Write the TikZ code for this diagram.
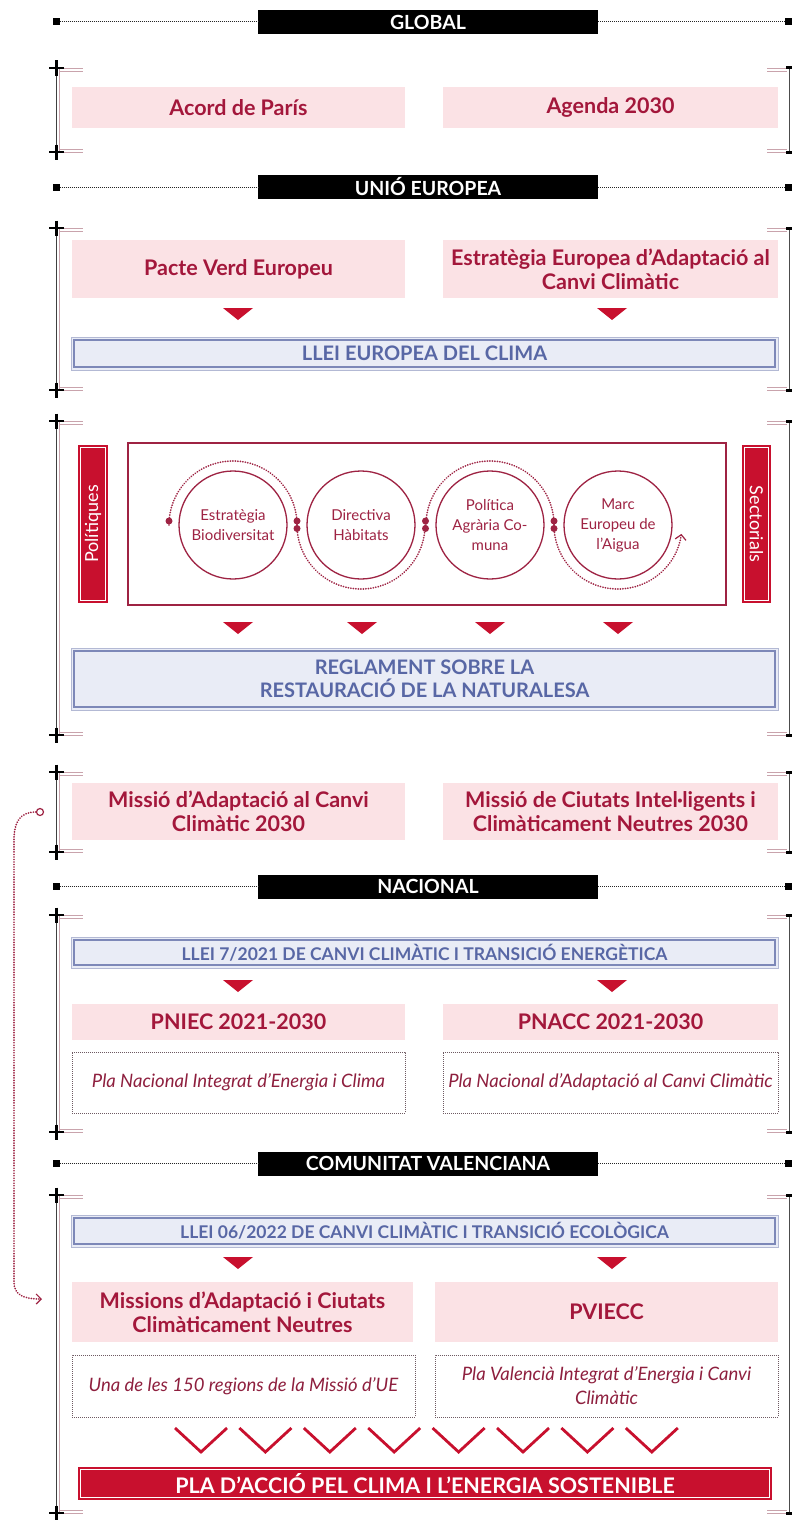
\documentclass[tikz,border=0pt]{standalone}
\usepackage{fontspec}
\setmainfont{Lato}
\usetikzlibrary{arrows.meta,calc}
\definecolor{crim}{HTML}{A3173B}
\definecolor{pinkf}{HTML}{FBE2E5}
\definecolor{redbar}{HTML}{C8102E}
\definecolor{bluet}{HTML}{5867A5}
\definecolor{bluef}{HTML}{E9ECF6}
\definecolor{blueo}{HTML}{B3B9D4}
\definecolor{bluei}{HTML}{7D88B8}
\definecolor{circ}{HTML}{9E2343}
\definecolor{brk}{HTML}{C9A3AC}
\definecolor{dotc}{HTML}{6E5A62}
\definecolor{itc}{HTML}{8E1F3E}
\tikzset{
  pinkbox/.style={fill=pinkf, text=crim, inner sep=0pt, align=center,
     font=\bfseries\fontsize{21.5}{24}\selectfont},
  bluebox/.style={fill=bluef, draw=blueo, line width=0.8pt, text=bluet, inner sep=0pt, align=center,
     font=\bfseries\fontsize{20}{22.5}\selectfont},
  dotbox/.style={draw=dotc, line width=0.8pt, dash pattern=on 0.8pt off 1.2pt, text=itc, inner sep=0pt,
     align=center, font=\itshape\fontsize{18.5}{24}\selectfont},
  hdr/.style={fill=black, text=white, inner sep=0pt, minimum width=340pt, minimum height=24pt,
     font=\bfseries\fontsize{19.5}{21}\selectfont},
  hsq/.style={fill=black, inner sep=0pt, minimum size=7pt},
  hdot/.style={black!85, line width=1pt, dash pattern=on 0.8pt off 1.2pt},
  redbarbox/.style={fill=redbar, draw=redbar, line width=2.4pt, double=white, double distance=0.7pt,
     text=white, inner sep=0pt},
  circnode/.style={circle, draw=circ, line width=1.3pt, minimum size=108pt, inner sep=0pt, text=circ,
     align=center, font=\fontsize{15}{20}\selectfont},
  arcdot/.style={circ, line width=1.9pt, dash pattern=on 0.01pt off 2.5pt, line cap=round},
  rdot/.style={circle, fill=circ, inner sep=0pt, minimum size=7pt},
  chev/.style={redbar, line width=2.8pt},
}
\newcommand\tridown[2]{\fill[redbar] (#1-15,#2) -- (#1+15,#2) -- (#1,#2+12) -- cycle;}
\newcommand\leftbrk[2]{%
 \draw[black!75, line width=0.8pt] (56.5,#1) -- (56.5,#2);
 \draw[brk, line width=0.9pt] (59.5,#1+1) -- (59.5,#2-1);
 \draw[brk, line width=0.6pt] (57,#1) -- (83,#1) (59.5,#1+3) -- (83,#1+3);
 \draw[brk, line width=0.6pt] (57,#2) -- (83,#2) (59.5,#2-3) -- (83,#2-3);
 \draw[black, line width=2.6pt] (49,#1) -- (64,#1) (56.5,#1-7.5) -- (56.5,#1+7.5);
 \draw[black, line width=2.6pt] (49,#2) -- (64,#2) (56.5,#2-7.5) -- (56.5,#2+7.5);
}
\newcommand\rightbrk[2]{%
 \draw[black!70, line width=1pt] (789.5,#1) -- (789.5,#2);
 \draw[brk, line width=0.6pt] (767,#1) -- (789,#1) (767,#1+3) -- (787,#1+3);
 \draw[brk, line width=0.6pt] (767,#2) -- (789,#2) (767,#2-3) -- (787,#2-3);
 \draw[black, line width=3pt] (786,#1) -- (792,#1) (786,#2) -- (792,#2);
}
\newcommand\header[3]{%
 \node[hdr] (#1) at (428,#2) {#3};
 \node[hsq] (#1L) at (56,#2) {};
 \node[hsq] (#1R) at (788.5,#2) {};
 \draw[hdot] (#1L) -- (#1);
 \draw[hdot] (#1) -- (#1R);
}
\newcommand\blueinner[1]{\draw[bluei, line width=1.3pt] ($(#1.south west)+(3.5pt,3.5pt)$) rectangle ($(#1.north east)+(-3.5pt,-3.5pt)$);}
\begin{document}
\begin{tikzpicture}[x=1pt,y=-1pt]
\useasboundingbox (0,0) rectangle (792,1520);
\fill[white] (0,0) rectangle (792,1520);

% ---------- headers
\header{hglob}{22}{GLOBAL}
\header{hue}{187}{UNIÓ EUROPEA}
\header{hnac}{886.5}{NACIONAL}
\header{hcv}{1163.5}{COMUNITAT VALENCIANA}

% ---------- brackets
\leftbrk{68}{152}\rightbrk{68}{152}
\leftbrk{228}{390}\rightbrk{228}{390}
\leftbrk{421}{735}\rightbrk{421}{735}
\leftbrk{772}{852}\rightbrk{772}{852}
\leftbrk{915}{1132}\rightbrk{915}{1132}
\leftbrk{1195}{1513}\rightbrk{1195}{1513}

% ---------- GLOBAL
\node[pinkbox, minimum width=333pt, minimum height=41pt] (acord) at (238.5,107.5) {Acord de París};
\node[pinkbox, minimum width=335pt, minimum height=41pt] (agenda) at (610.5,107.5) {Agenda 2030};

% ---------- UE 1
\node[pinkbox, minimum width=333pt, minimum height=58pt] (pacte) at (238.5,269) {Pacte Verd Europeu};
\node[pinkbox, minimum width=335pt, minimum height=58pt] (eeacc) at (610.5,269) {Estratègia Europea d’Adaptació al\\Canvi Climàtic};
\tridown{238}{308}\tridown{612}{308}
\node[bluebox, minimum width=707pt, minimum height=33pt] (lleiue) at (424.5,353.5) {LLEI EUROPEA DEL CLIMA};
\blueinner{lleiue}

% ---------- UE 2 (policies)
\node[redbarbox, minimum width=152.5pt, minimum height=24.5pt, rotate=90, font=\fontsize{18}{20}\selectfont] (polit) at (93,524) {Polítiques};
\node[redbarbox, minimum width=152.5pt, minimum height=23.5pt, rotate=-90, font=\fontsize{18}{20}\selectfont] (sect) at (756.5,524) {Sectorials};
\node[draw=circ, line width=1.6pt, minimum width=598pt, minimum height=162pt, inner sep=0pt] (polbox) at (427,524) {};
\node[circnode] (c1) at (233,525) {Estratègia\\Biodiversitat};
\node[circnode] (c2) at (361,525) {Directiva\\Hàbitats};
\node[circnode] (c3) at (490,525) {Política\\Agrària Co-\\muna};
\node[circnode] (c4) at (618,525) {Marc\\Europeu de\\l’Aigua};
\draw[arcdot] (169,525) arc[start angle=180, end angle=0, radius=64pt];
\draw[arcdot] (297,525) arc[start angle=180, end angle=360, radius=64pt];
\draw[arcdot] (426,525) arc[start angle=180, end angle=0, radius=64pt];
\draw[arcdot, -{Straight Barb[length=5pt,width=11pt,line width=1.2pt]}] (554,525) arc[start angle=180, end angle=352, radius=64pt];
\node[rdot] (d0) at (169,521) {};
\node[rdot] (d1a) at (297,521) {};
\node[rdot] (d1b) at (297,528.5) {};
\node[rdot] (d2a) at (425.5,521) {};
\node[rdot] (d2b) at (425.5,528.5) {};
\node[rdot] (d3a) at (554,521) {};
\node[rdot] (d3b) at (554,528.5) {};
\tridown{238}{622}\tridown{362}{622}\tridown{490}{622}\tridown{618}{622}
\node[bluebox, minimum width=707pt, minimum height=62pt] (regl) at (424.5,679) {REGLAMENT SOBRE LA\\RESTAURACIÓ DE LA NATURALESA};
\blueinner{regl}

% ---------- missions
\node[pinkbox, minimum width=333pt, minimum height=57pt] (madapt) at (238.5,811.5) {Missió d’Adaptació al Canvi\\Climàtic 2030};
\node[pinkbox, minimum width=335pt, minimum height=57pt] (mciut) at (610.5,811.5) {Missió de Ciutats Intel·ligents i\\Climàticament Neutres 2030};

% ---------- NACIONAL
\node[bluebox, minimum width=707pt, minimum height=31pt, font=\bfseries\fontsize{17.5}{19}\selectfont] (llei7) at (424.5,952.5) {LLEI 7/2021 DE CANVI CLIMÀTIC I TRANSICIÓ ENERGÈTICA};
\blueinner{llei7}
\tridown{238}{980}\tridown{612}{980}
\node[pinkbox, minimum width=333pt, minimum height=36pt] (pniec) at (238.5,1022) {PNIEC 2021-2030};
\node[pinkbox, minimum width=335pt, minimum height=36pt] (pnacc) at (610.5,1022) {PNACC 2021-2030};
\node[dotbox, minimum width=333pt, minimum height=61pt] (pniect) at (238.5,1082.5) {Pla Nacional Integrat d’Energia i Clima};
\node[dotbox, minimum width=335pt, minimum height=61pt] (pnacct) at (610.5,1082.5) {Pla Nacional d’Adaptació al Canvi Climàtic};

% ---------- COMUNITAT VALENCIANA
\node[bluebox, minimum width=707pt, minimum height=32pt, font=\bfseries\fontsize{17.5}{19}\selectfont] (llei6) at (424.5,1231) {LLEI 06/2022 DE CANVI CLIMÀTIC I TRANSICIÓ ECOLÒGICA};
\blueinner{llei6}
\tridown{238}{1257}\tridown{612}{1257}
\node[pinkbox, minimum width=341pt, minimum height=60pt] (mcv) at (242.5,1312) {Missions d’Adaptació i Ciutats\\Climàticament Neutres};
\node[pinkbox, minimum width=343pt, minimum height=60pt] (pviecc) at (606.5,1312) {PVIECC};
\node[dotbox, minimum width=343pt, minimum height=62pt] (mcvt) at (243.5,1386) {Una de les 150 regions de la Missió d’UE};
\node[dotbox, minimum width=343pt, minimum height=62pt] (pvieccT) at (606.5,1386) {Pla Valencià Integrat d’Energia i Canvi\\Climàtic};
\foreach \k in {0,...,7}{
  \draw[chev] ({201+64.4*\k-26},1428) -- ({201+64.4*\k},1452) -- ({201+64.4*\k+26},1428);
}
\node[redbarbox, minimum width=688.5pt, minimum height=27.5pt, font=\bfseries\fontsize{21.5}{23}\selectfont] (pla) at (425,1483.5) {PLA D’ACCIÓ PEL CLIMA I L’ENERGIA SOSTENIBLE};

% ---------- connector missions -> CV
\node[circle, draw=circ, line width=1.2pt, inner sep=0pt, minimum size=7pt] (mo) at (40,812) {};
\coordinate (me) at (42,1299);
\draw[arcdot, -{Straight Barb[length=5pt,width=10pt,line width=1.2pt]}] (mo.west) .. controls (20,812) and (14,822) .. (14,840) -- (14,1282) .. controls (14,1294) and (22,1299) .. (me);
\end{tikzpicture}
\end{document}
